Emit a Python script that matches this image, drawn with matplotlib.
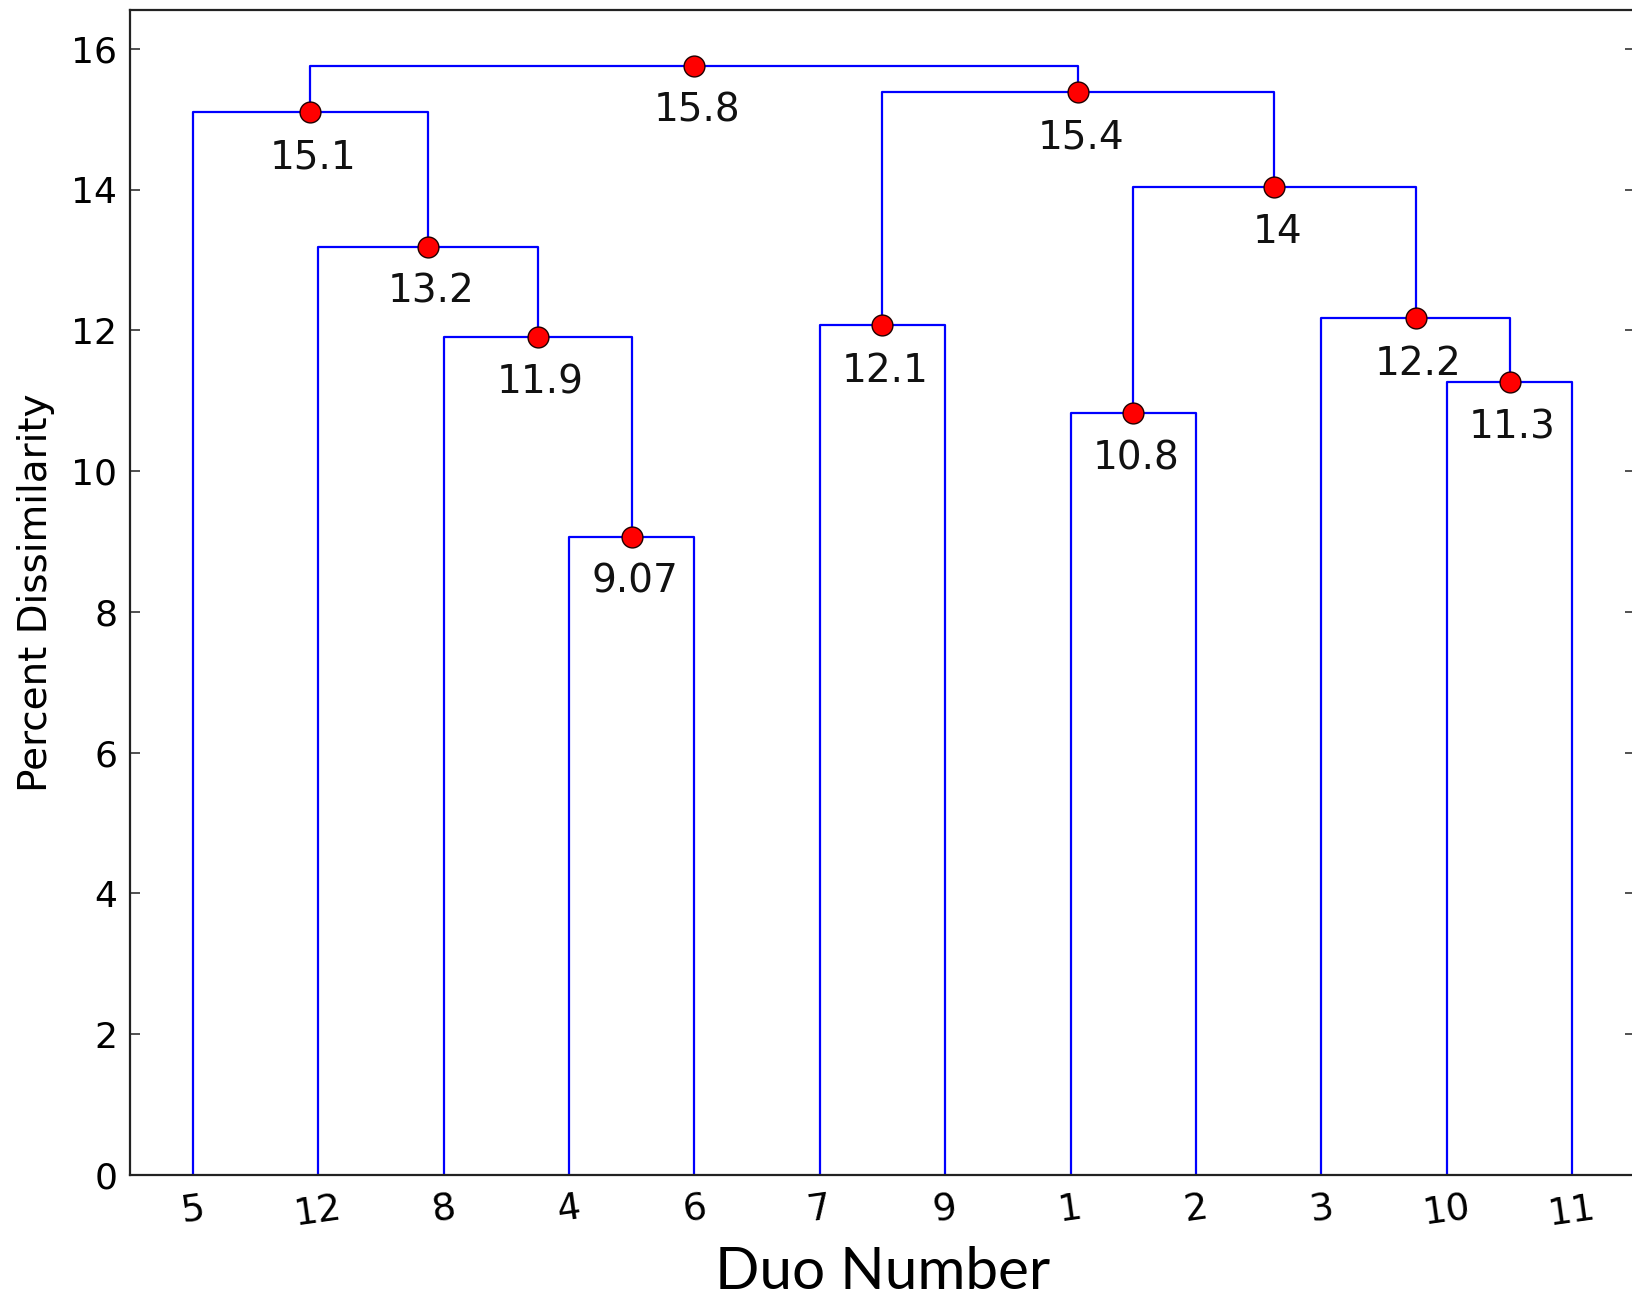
import matplotlib as mpl
import matplotlib.pyplot as plt
import numpy as np

mpl.use("agg")

# leaves in the order they appear along the x axis
leaf_labels = ["5", "12", "8", "4", "6", "7", "9", "1", "2", "3", "10", "11"]

# merges, like a linkage matrix: ids < 12 are leaves (by position), >= 12 are clusters
merge_left = [3, 2, 1, 0, 5, 7, 10, 9, 17, 16, 15]
merge_right = [4, 12, 13, 14, 6, 8, 11, 18, 19, 20, 21]
merge_height = [9.07, 11.9, 13.19, 15.1, 12.07, 10.83, 11.26, 12.17, 14.04, 15.39, 15.76]

n = len(leaf_labels)
pos = {i: 10 * i + 5.0 for i in range(n)}
hgt = {i: 0.0 for i in range(n)}

fig = plt.figure(figsize=(16.33, 13), dpi=100)
ax = fig.add_axes([130 / 1633, 125 / 1300, 1505 / 1633, 1165 / 1300])

for k, (a, b, h) in enumerate(zip(merge_left, merge_right, merge_height)):
    xa, xb = pos[a], pos[b]
    ax.plot([xa, xa, xb, xb], [hgt[a], h, h, hgt[b]], color="blue", lw=1.6, zorder=2)
    xm = (xa + xb) / 2
    pos[n + k] = xm
    hgt[n + k] = h

for k, h in enumerate(merge_height):
    xm = pos[n + k]
    ax.plot(xm, h, "o", color="red", markeredgecolor="#200000", markeredgewidth=1.0,
            markersize=15, zorder=3)
    ax.annotate("%.3g" % h, (xm, h), xytext=(2, -19), textcoords="offset points",
                va="top", ha="center", fontsize=28, color="#111111")

ax.set_xlim(0, 10 * n)
ax.set_ylim(0, 16.55)
ax.set_xticks([10 * i + 5 for i in range(n)])
ax.set_xticklabels(leaf_labels, rotation=8, fontsize=27)
ax.set_yticks(np.arange(0, 17, 2))
ax.tick_params(axis="y", labelsize=26, pad=9, direction="in", length=7, width=1.2,
               right=True, color="#333333")
ax.tick_params(axis="x", pad=11, length=0, top=False)
for s in ax.spines.values():
    s.set_linewidth(1.6)
    s.set_color("#222222")

ax.set_ylabel("Percent Dissimilarity", fontsize=28, labelpad=12)
ax.set_xlabel("Duo Number", fontsize=42, family="Lato", labelpad=10)

fig.savefig("out.png", dpi=100)
